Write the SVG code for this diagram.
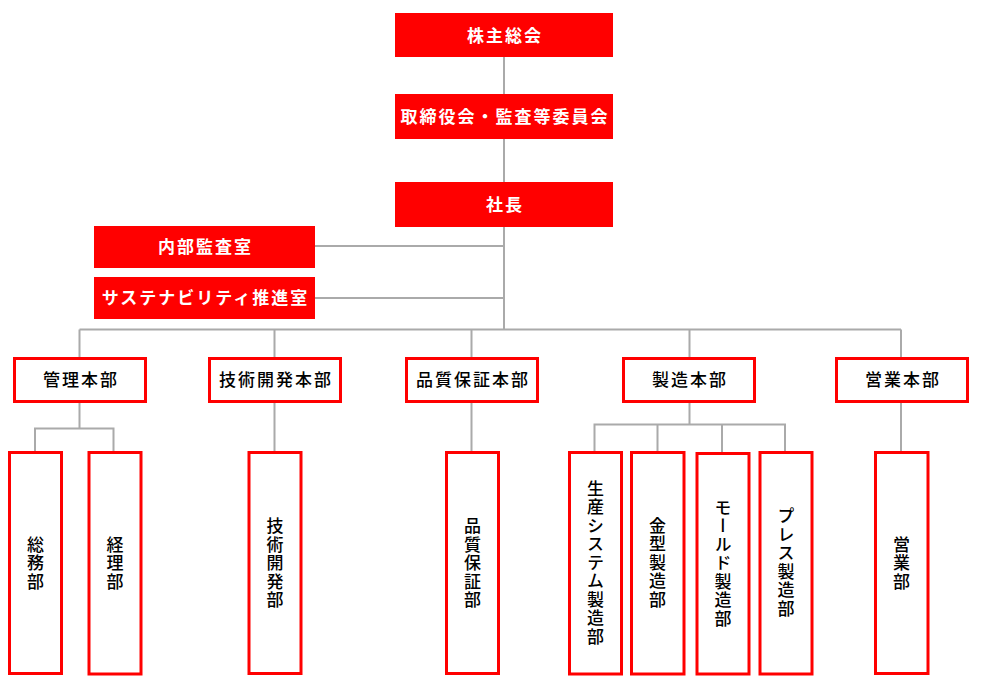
<svg xmlns="http://www.w3.org/2000/svg" width="982" height="683" viewBox="0 0 982 683">
<style>
.top rect{fill:#ff0000;}
.top text{fill:#ffffff;font-family:"Noto Sans CJK JP","Noto Sans CJK SC",sans-serif;font-size:17px;font-weight:bold;letter-spacing:2px;text-anchor:middle;}
.mid rect,.sub rect{fill:#ffffff;stroke:#ff0000;stroke-width:3;}
.mid text{fill:#000000;font-family:"Noto Sans CJK JP","Noto Sans CJK SC",sans-serif;font-size:17px;font-weight:500;letter-spacing:2px;text-anchor:middle;}
.sub text{fill:#000000;font-family:"Noto Sans CJK JP","Noto Sans CJK SC",sans-serif;font-size:17px;font-weight:500;letter-spacing:1.5px;text-anchor:middle;writing-mode:vertical-rl;}
#connectors path{fill:none;stroke:#aaaaaa;stroke-width:2;}
</style>
<g id="connectors">
<path d="M504 57V94M504 139V182M504 227V329.5"/>
<path d="M315 246H504M315 298H504"/>
<path d="M79.5 329.5H901M79.5 329.5V358M274.5 329.5V358M471.5 329.5V358M689.5 329.5V358M901 329.5V358"/>
<path d="M79.5 402V428.5M35 428.5H113.5M35 427.5V452M113.5 427.5V452"/>
<path d="M274.5 402V452M471.5 402V452M901 402V452"/>
<path d="M689.5 402V424.5M594.5 424.5H785M594.5 423.5V452M657.5 423.5V452M722 423.5V453M785 423.5V452"/>
</g>
<g id="n-kabunushi" class="top"><rect x="395" y="13" width="218" height="44"/><text x="505" y="41.5">株主総会</text></g>
<g id="n-torishimariyaku" class="top"><rect x="395" y="94" width="218" height="45"/><text x="505" y="122.5">取締役会・監査等委員会</text></g>
<g id="n-shacho" class="top"><rect x="395" y="182" width="218" height="45"/><text x="505" y="210.5">社長</text></g>
<g id="n-naibu" class="top"><rect x="94" y="226" width="221" height="42"/><text x="205.5" y="253">内部監査室</text></g>
<g id="n-sustain" class="top"><rect x="94" y="277" width="221" height="42"/><text x="205.5" y="304">サステナビリティ推進室</text></g>

<g id="n-kanri" class="mid"><rect x="14.5" y="358.5" width="131" height="43"/><text x="81" y="386">管理本部</text></g>
<g id="n-gijutsu" class="mid"><rect x="209.5" y="358.5" width="131" height="43"/><text x="276" y="386">技術開発本部</text></g>
<g id="n-hinshitsu" class="mid"><rect x="406.5" y="358.5" width="131" height="43"/><text x="473" y="386">品質保証本部</text></g>
<g id="n-seizo" class="mid"><rect x="623.5" y="358.5" width="131" height="43"/><text x="690" y="386">製造本部</text></g>
<g id="n-eigyo" class="mid"><rect x="836.5" y="358.5" width="131" height="43"/><text x="903" y="386">営業本部</text></g>

<g id="n-somu" class="sub"><rect x="9.5" y="452.5" width="52" height="221"/><text x="35.5" y="563.5">総務部</text></g>
<g id="n-keiri" class="sub"><rect x="89" y="452.5" width="52" height="221.5"/><text x="115" y="563.5">経理部</text></g>
<g id="n-gijutsubu" class="sub"><rect x="249" y="452.5" width="52" height="221"/><text x="275" y="563.5">技術開発部</text></g>
<g id="n-hinshitsubu" class="sub"><rect x="446.5" y="452.5" width="52" height="221"/><text x="472.5" y="563.5">品質保証部</text></g>
<g id="n-seisan" class="sub"><rect x="569.5" y="452.5" width="52" height="221.5"/><text x="595.5" y="563">生産システム製造部</text></g>
<g id="n-kanagata" class="sub"><rect x="631.5" y="452.5" width="52.5" height="221.5"/><text x="657.5" y="563">金型製造部</text></g>
<g id="n-mold" class="sub"><rect x="697" y="453.5" width="52" height="220.5"/><text x="723" y="563.5">モールド製造部</text></g>
<g id="n-press" class="sub"><rect x="760" y="452.5" width="52" height="221.5"/><text x="786" y="563">プレス製造部</text></g>
<g id="n-eigyobu" class="sub"><rect x="875.5" y="452.5" width="52.5" height="221"/><text x="901.5" y="563.5">営業部</text></g>
</svg>
